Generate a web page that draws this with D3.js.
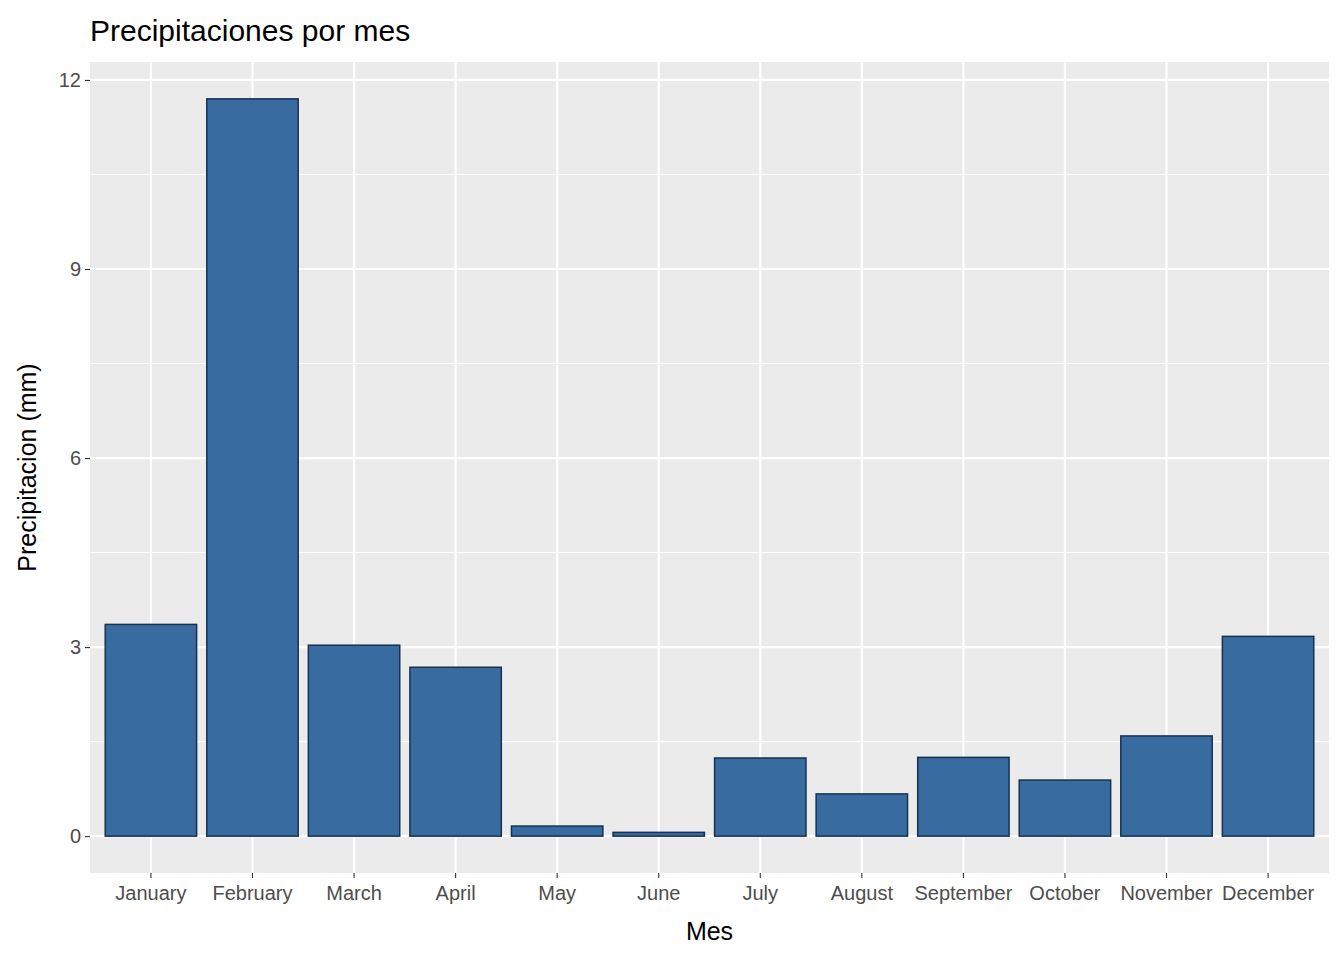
<!DOCTYPE html><html><head><meta charset="utf-8">
<script src="https://cdn.jsdelivr.net/npm/d3@7"></script>
<style>body{margin:0;background:#fff}text{font-family:Arial,"Liberation Sans",sans-serif}</style></head><body>
<svg id="c" width="1344" height="960"></svg>
<script>
const months=["January","February","March","April","May","June","July","August","September","October","November","December"];
const precip=[3.36,11.70,3.03,2.68,0.16,0.06,1.24,0.67,1.25,0.89,1.59,3.17];
const yTicks=[0,3,6,9,12];
const L=90,R=1329,T=62,B=873;
const svg=d3.select("#c");
const step=(R-L)/12.2;
const x=d3.scaleBand().domain(months).range([L+0.1*step,R-0.1*step]).paddingInner(0.1).paddingOuter(0.05);
const y=d3.scaleLinear().domain([-0.585,12.285]).range([B,T]);
svg.append("rect").attr("x",L).attr("y",T).attr("width",R-L).attr("height",B-T).attr("fill","#ebebeb");
const minor=[1.5,4.5,7.5,10.5];
svg.selectAll(".mi").data(minor).join("line").attr("x1",L).attr("x2",R).attr("y1",d=>y(d)).attr("y2",d=>y(d)).attr("stroke","#fff").attr("stroke-width",1.1);
svg.selectAll(".ma").data(yTicks).join("line").attr("x1",L).attr("x2",R).attr("y1",d=>y(d)).attr("y2",d=>y(d)).attr("stroke","#fff").attr("stroke-width",2.2);
svg.selectAll(".mx").data(months).join("line").attr("x1",d=>x(d)+x.bandwidth()/2).attr("x2",d=>x(d)+x.bandwidth()/2).attr("y1",T).attr("y2",B).attr("stroke","#fff").attr("stroke-width",2.2);
svg.selectAll(".bar").data(months).join("rect").attr("x",d=>x(d)).attr("width",x.bandwidth())
 .attr("y",(d,i)=>y(precip[i])).attr("height",(d,i)=>y(0)-y(precip[i])).attr("fill","#386ca0").attr("stroke","#16324f").attr("stroke-width",1.5);
const ya=svg.append("g").attr("transform",`translate(${L},0)`).call(d3.axisLeft(y).tickValues(yTicks).tickSize(5).tickPadding(4));
const xa=svg.append("g").attr("transform",`translate(0,${B})`).call(d3.axisBottom(x).tickSize(5).tickPadding(4));
[ya,xa].forEach(a=>{a.select(".domain").remove();a.selectAll("line").attr("stroke","#333").attr("stroke-width",1.1);a.selectAll("text").attr("fill","#4d4d4d").attr("font-size","20px");});
xa.selectAll("text").attr("dy","0.9em");
svg.append("text").attr("x",(L+R)/2).attr("y",940).attr("text-anchor","middle").attr("font-size","25px").text("Mes");
svg.append("text").attr("transform",`translate(36,${(T+B)/2}) rotate(-90)`).attr("text-anchor","middle").attr("font-size","25px").text("Precipitacion (mm)");
svg.append("text").attr("x",L).attr("y",41).attr("font-size","30px").text("Precipitaciones por mes");
</script></body></html>
